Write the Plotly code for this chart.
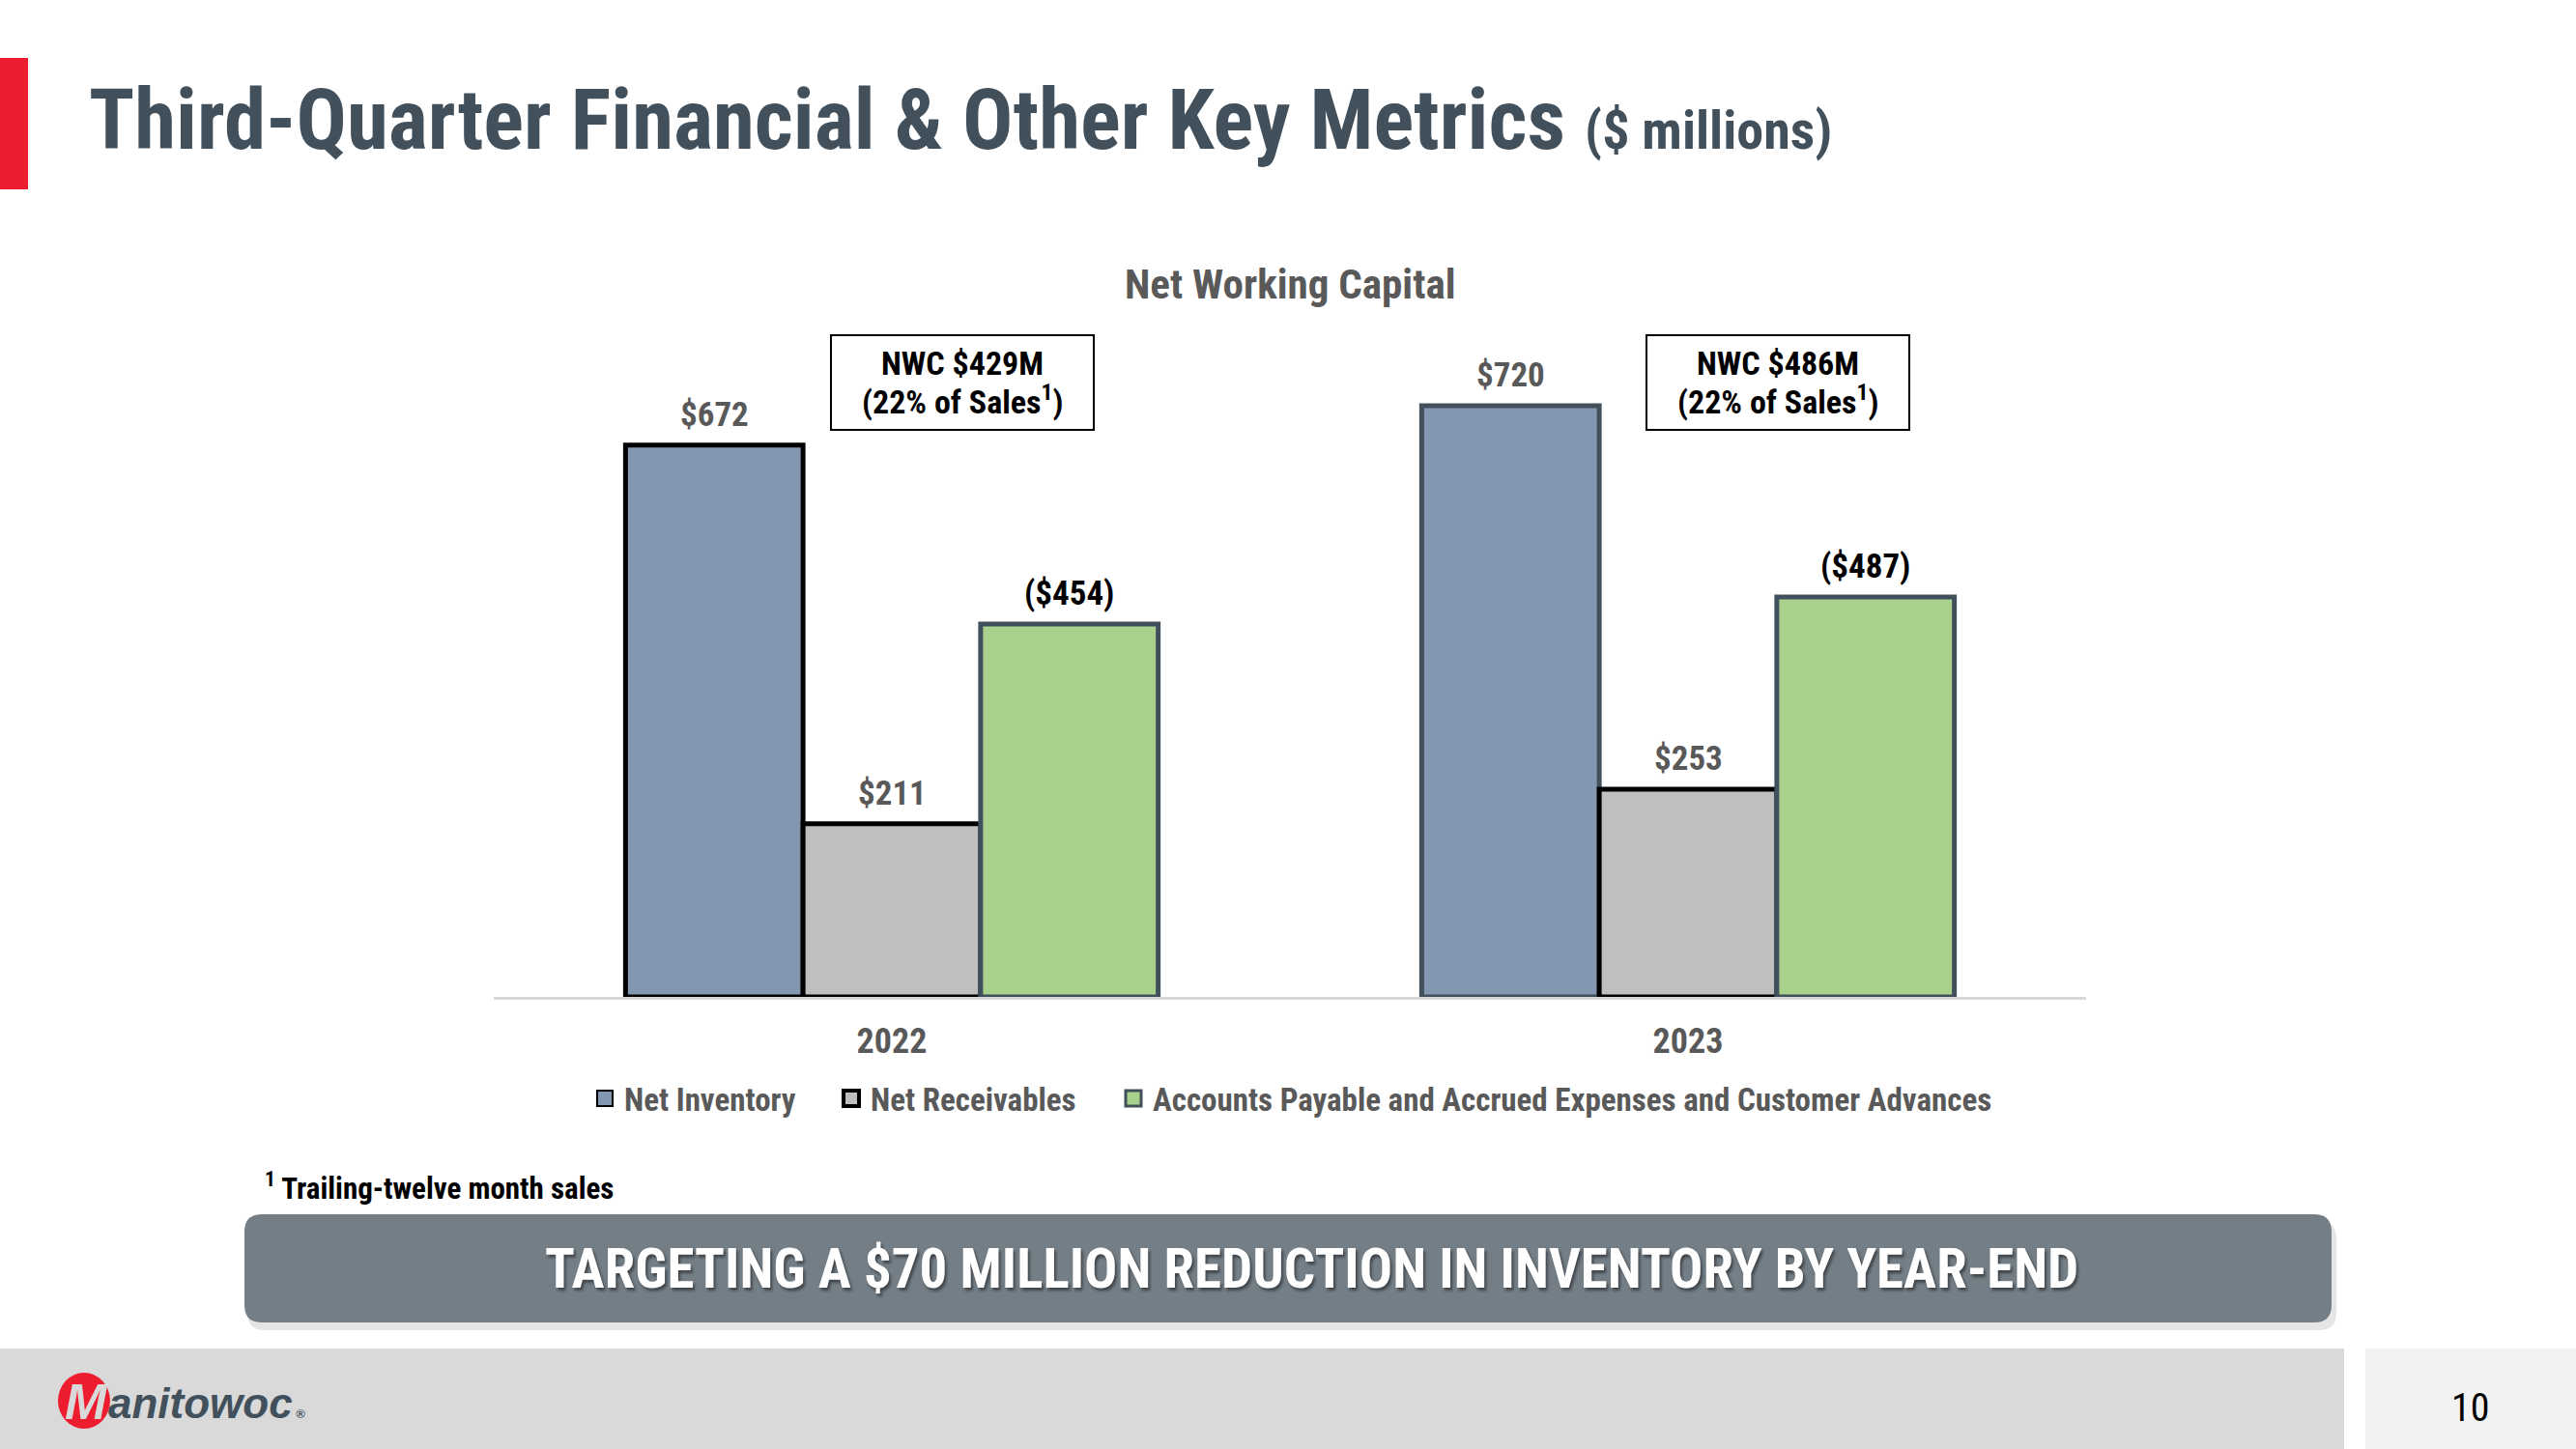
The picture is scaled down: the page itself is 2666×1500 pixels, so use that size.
import plotly.graph_objects as go

# ---- data ----
years = ["2022", "2023"]
net_inventory = [672, 720]
net_receivables = [211, 253]
ap_accrued = [454, 487]
nwc_values = [429, 486]
nwc_pct = [22, 22]

series_names = ["Net Inventory", "Net Receivables",
                "Accounts Payable and Accrued Expenses and Customer Advances"]

FONT = "Roboto Condensed, Liberation Sans Narrow, Arial Narrow, Roboto, sans-serif"
SLATE = "#42505C"
GRAY_TXT = "#595959"

W, H = 2666, 1500
PL, PR = 511, 2159      # plot area x (px)
PT, PB = 352, 1032      # plot area y (px)
YMAX = 800
BARGAP = 0.331
BAR_W = (1 - BARGAP) * (PR - PL) / len(years) / 3


def px_x(x):
    return (x - PL) / (PR - PL)


def px_y(y):
    return (PB - y) / (PB - PT)


fig = go.Figure()

series = [
    (series_names[0], net_inventory, "#8497B0", ["#000000", SLATE], "#000000", 2,
     [f"${v}" for v in net_inventory], GRAY_TXT, "legend"),
    (series_names[1], net_receivables, "#BFBFBF", ["#000000", "#000000"], "#000000", 4,
     [f"${v}" for v in net_receivables], GRAY_TXT, "legend2"),
    (series_names[2], ap_accrued, "#A9D18E", [SLATE, SLATE], SLATE, 3,
     [f"(${v})" for v in ap_accrued], "#000000", "legend3"),
]

annotations = []
for k, (name, vals, fill, lines, leg_line, leg_w, labels, tcol, lg) in enumerate(series):
    fig.add_trace(go.Bar(
        name=name, x=years, y=vals, showlegend=False,
        marker=dict(color=fill, line=dict(color=lines, width=5)),
        cliponaxis=False,
    ))
    # legend entry (square swatch)
    fig.add_trace(go.Scatter(
        name=name, x=[None], y=[None], mode="markers", legend=lg, showlegend=True,
        marker=dict(symbol="square", size=16, color=fill, line=dict(color=leg_line, width=leg_w)),
    ))
    for i in range(len(years)):
        annotations.append(dict(
            x=i, y=vals[i], xref="x", yref="y", xanchor="center", yanchor="bottom",
            xshift=(k - 1) * BAR_W, yshift=9, text=labels[i], showarrow=False,
            font=dict(family=FONT, size=35, color=tcol, weight="bold")))

shapes = []

# red accent bar
shapes.append(dict(type="rect", xref="paper", yref="paper",
                   x0=px_x(0), x1=px_x(29), y0=px_y(60), y1=px_y(196),
                   fillcolor="#ED1C2E", line=dict(width=0), layer="above"))

# title
annotations.append(dict(
    xref="paper", yref="paper", x=px_x(90), y=px_y(124), xanchor="left", yanchor="middle",
    text="Third-Quarter Financial & Other Key Metrics <span style='font-size:56px'>($ millions)</span>",
    showarrow=False, font=dict(family=FONT, size=87, color=SLATE, weight="bold")))

# chart title
annotations.append(dict(
    xref="paper", yref="paper", x=px_x(1335), y=px_y(294), xanchor="center", yanchor="middle",
    text="Net Working Capital", showarrow=False,
    font=dict(family=FONT, size=43, color=GRAY_TXT, weight="bold")))

# NWC boxes
box_centers = [996, 1840]
for i in range(len(years)):
    cx = box_centers[i]
    shapes.append(dict(type="rect", xref="paper", yref="paper",
                       x0=px_x(cx - 136), x1=px_x(cx + 136), y0=px_y(347), y1=px_y(445),
                       fillcolor="white", line=dict(color="#000000", width=2), layer="above"))
    annotations.append(dict(
        xref="paper", yref="paper", x=px_x(cx), y=px_y(376),
        xanchor="center", yanchor="middle", text=f"NWC ${nwc_values[i]}M",
        showarrow=False, font=dict(family=FONT, size=34, color="#000000", weight="bold")))
    annotations.append(dict(
        xref="paper", yref="paper", x=px_x(cx), y=px_y(414),
        xanchor="center", yanchor="middle", text=f"({nwc_pct[i]}% of Sales<sup>1</sup>)",
        showarrow=False, font=dict(family=FONT, size=34, color="#000000", weight="bold")))

# footnote
annotations.append(dict(
    xref="paper", yref="paper", x=px_x(272), y=px_y(1228), xanchor="left", yanchor="middle",
    text="<sup>1</sup> Trailing-twelve month sales", showarrow=False,
    font=dict(family=FONT, size=31, color="#000000", weight="bold")))


def path_px(x0, y0, x1, y1, r):
    pts = [(x0 + r, y0), (x1 - r, y0), (x1, y0), (x1, y0 + r), (x1, y1 - r), (x1, y1),
           (x1 - r, y1), (x0 + r, y1), (x0, y1), (x0, y1 - r), (x0, y0 + r), (x0, y0), (x0 + r, y0)]
    p = [f"{px_x(a):.5f},{px_y(b):.5f}" for a, b in pts]
    return (f"M {p[0]} L {p[1]} Q {p[2]} {p[3]} L {p[4]} Q {p[5]} {p[6]} "
            f"L {p[7]} Q {p[8]} {p[9]} L {p[10]} Q {p[11]} {p[12]} Z")


# banner (shadow + rounded rect)
shapes.append(dict(type="path", xref="paper", yref="paper",
                   path=path_px(256, 1264, 2418, 1377, 18),
                   fillcolor="rgba(0,0,0,0.10)", line=dict(width=0), layer="above"))
shapes.append(dict(type="path", xref="paper", yref="paper",
                   path=path_px(253, 1257, 2413, 1369, 18),
                   fillcolor="#747E86", line=dict(width=0), layer="above"))
annotations.append(dict(
    xref="paper", yref="paper", x=px_x(1357), y=px_y(1313), xanchor="center", yanchor="middle",
    text="TARGETING A $70 MILLION REDUCTION IN INVENTORY BY YEAR-END", showarrow=False,
    font=dict(family=FONT, size=57, color="#FFFFFF", weight="bold",
              shadow="2px 3px 3px rgba(0,0,0,0.45)")))

# footer
shapes.append(dict(type="rect", xref="paper", yref="paper",
                   x0=px_x(0), x1=px_x(2426), y0=px_y(1396), y1=px_y(1500),
                   fillcolor="#D9D9D9", line=dict(width=0), layer="above"))
shapes.append(dict(type="rect", xref="paper", yref="paper",
                   x0=px_x(2448), x1=px_x(2666), y0=px_y(1396), y1=px_y(1500),
                   fillcolor="#F2F2F2", line=dict(width=0), layer="above"))
annotations.append(dict(
    xref="paper", yref="paper", x=px_x(2557), y=px_y(1457), xanchor="center", yanchor="middle",
    text="10", showarrow=False, font=dict(family=FONT, size=40, color="#000000")))

# logo
shapes.append(dict(type="circle", xref="paper", yref="paper",
                   x0=px_x(60), x1=px_x(114), y0=px_y(1421), y1=px_y(1479),
                   fillcolor="#ED1C2E", line=dict(width=0), layer="above"))
annotations.append(dict(
    xref="paper", yref="paper", x=px_x(90), y=px_y(1451), xanchor="center", yanchor="middle",
    text="<i>M</i>", showarrow=False,
    font=dict(family="Liberation Sans, Arial, sans-serif", size=52, color="#D9D9D9", weight="bold")))
annotations.append(dict(
    xref="paper", yref="paper", x=px_x(110), y=px_y(1452), xanchor="left", yanchor="middle",
    text="<i>anitowoc</i><span style='font-size:13px'> ®</span>", showarrow=False,
    font=dict(family="Liberation Sans, Arial, sans-serif", size=44, color=SLATE, weight="bold")))

legend_font = dict(family=FONT, size=33, color=GRAY_TXT, weight="bold")
legend_common = dict(orientation="h", yanchor="middle", y=px_y(1137), xanchor="left",
                     font=legend_font, bgcolor="rgba(0,0,0,0)", itemwidth=30, itemsizing="trace")
legend_left = [606, 861, 1153]

fig.update_layout(
    width=W, height=H,
    margin=dict(l=PL, r=W - PR, t=PT, b=H - PB, pad=0),
    paper_bgcolor="white", plot_bgcolor="white",
    barmode="group", bargap=BARGAP, bargroupgap=0,
    showlegend=True,
    legend=dict(legend_common, x=px_x(legend_left[0])),
    legend2=dict(legend_common, x=px_x(legend_left[1])),
    legend3=dict(legend_common, x=px_x(legend_left[2])),
    xaxis=dict(type="category", showline=True, linecolor="#D9D9D9", linewidth=3, ticks="",
               showgrid=False, zeroline=False, ticklabelstandoff=12,
               tickfont=dict(family=FONT, size=36, color=GRAY_TXT, weight="bold")),
    yaxis=dict(range=[0, YMAX], visible=False, showgrid=False, zeroline=False),
    shapes=shapes, annotations=annotations,
    hovermode=False,
)

fig.write_html("out.html", config={"displayModeBar": False},
               post_script="document.body.style.margin='0';")
